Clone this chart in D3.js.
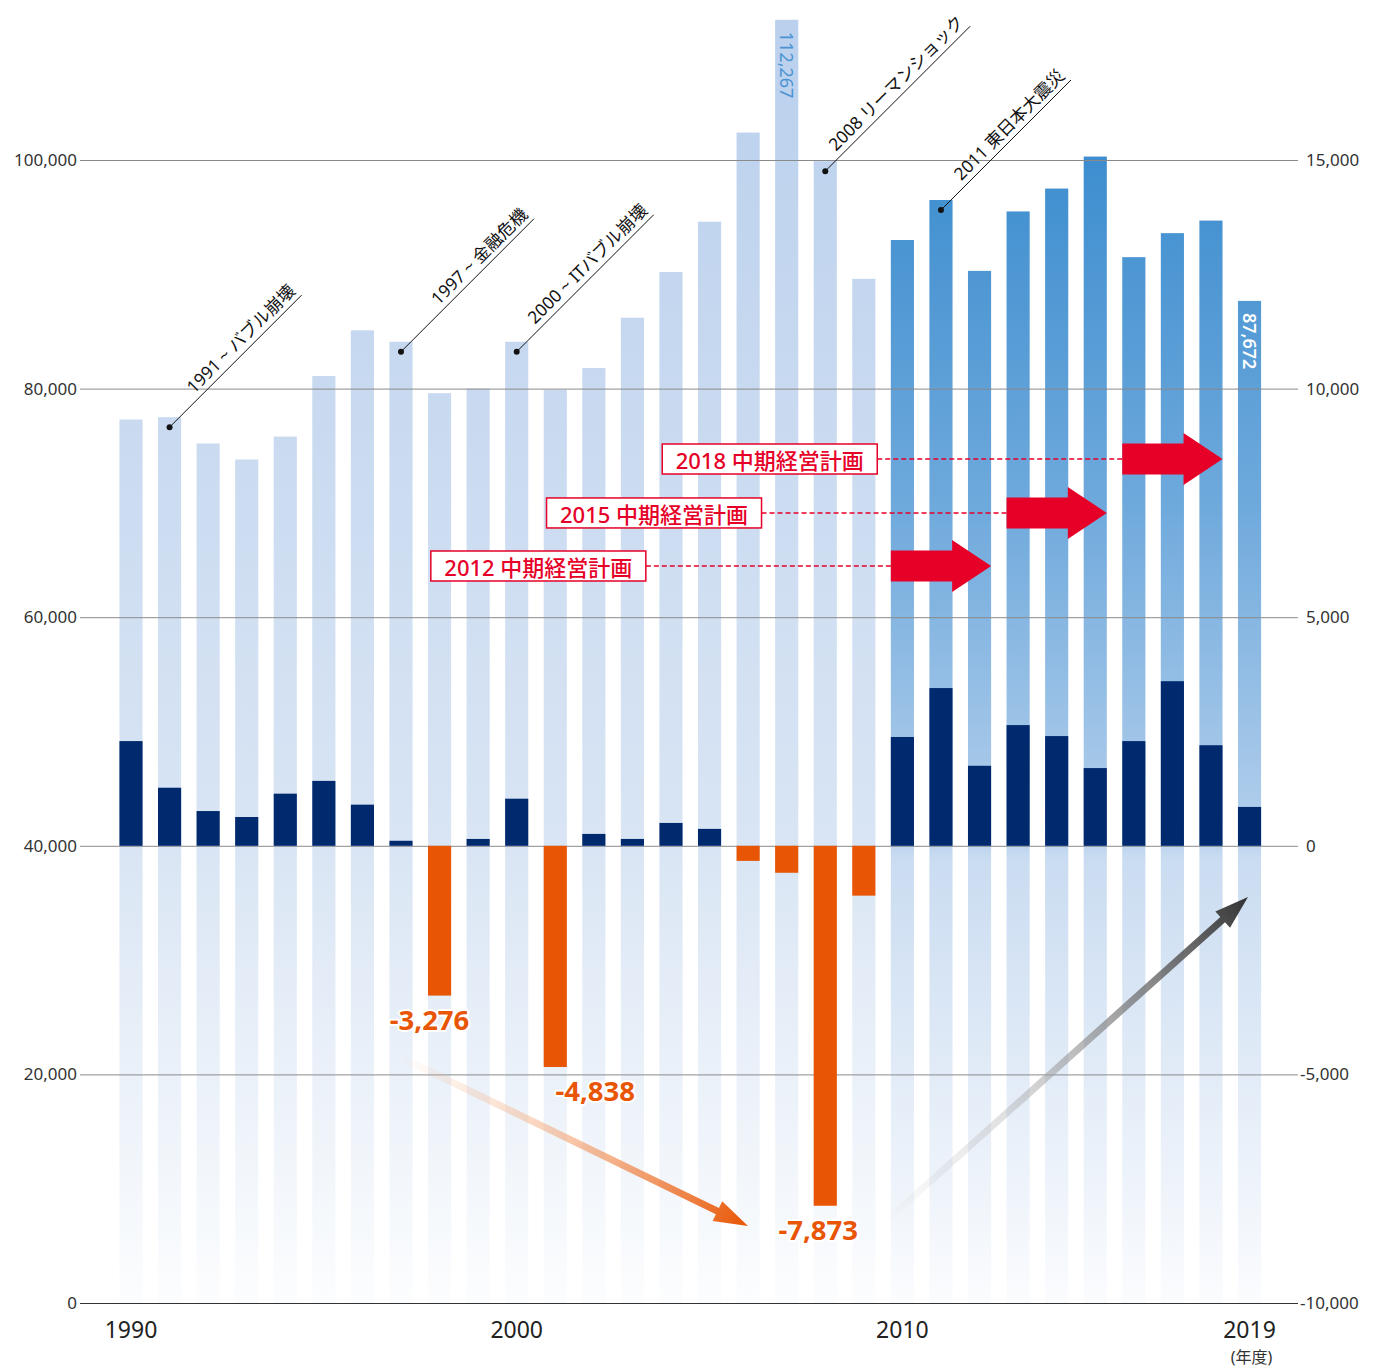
<!DOCTYPE html>
<html><head><meta charset="utf-8">
<script src="https://cdn.jsdelivr.net/npm/d3@7"></script>
<style>
html,body{margin:0;padding:0;background:#fff;}
svg text{font-family:"Noto Sans","Noto Sans CJK JP",sans-serif;}
</style></head>
<body>
<svg id="chart" width="1377" height="1367"></svg>
<script>
// ---------------- data ----------------
const years = d3.range(1990, 2020);
const revenue = [77300, 77500, 75200, 73800, 75800, 81100, 85100, 84100, 79600, 80000,
                 84100, 79900, 81800, 86200, 90200, 94600, 102400, 112267, 99900, 89600,
                 93000, 96500, 90300, 95500, 97500, 100300, 91500, 93600, 94700, 87672];
const profit  = [2290, 1270, 760, 630, 1140, 1420, 900, 110, -3276, 150,
                 1030, -4838, 260, 150, 500, 370, -330, -590, -7873, -1090,
                 2380, 3450, 1750, 2640, 2400, 1700, 2290, 3600, 2200, 850];
const leftTicks  = [0, 20000, 40000, 60000, 80000, 100000];
const rightTicks = [-10000, -5000, 0, 5000, 10000, 15000];
const yearTickLabels = [1990, 2000, 2010, 2019];
const highlightFrom = 2010;
const revenueLabelYears = [2007, 2019];
const lossLabelYears = [1998, 2001, 2008];
const eventYears = [1991, 1997, 2000, 2008, 2011];
const eventTexts = ["1991 ~ バブル崩壊", "1997 ~ 金融危機", "2000 ~ ITバブル崩壊", "2008 リーマンショック", "2011 東日本大震災"];
const planYears = [2012, 2015, 2018];
const planTexts = ["2012 中期経営計画", "2015 中期経営計画", "2018 中期経営計画"];
const unitLabel = "(年度)";

// ---------------- layout ----------------
(function () {
const svg = d3.select("#chart");
const fmt = v => d3.format(",")(v).replace("\u2212", "-");
const gridX0 = 80, gridX1 = 1298;
const step = 38.57;
const x = d3.scaleBand().domain(years).range([131 - step / 2, 131 - step / 2 + step * 30])
  .paddingInner(0.4).paddingOuter(0.2);
const yL = d3.scaleLinear().domain([0, 100000]).range([1303, 160]);
const yR = d3.scaleLinear().domain([-10000, 15000]).range([1303, 160]);
const cx = yr => x(yr) + x.bandwidth() / 2;

const defs = svg.append("defs");
function grad(id, stops, x1, y1, x2, y2) {
  const g = defs.append("linearGradient").attr("id", id).attr("gradientUnits", "userSpaceOnUse")
    .attr("x1", x1).attr("y1", y1).attr("x2", x2).attr("y2", y2);
  stops.forEach(s => g.append("stop").attr("offset", s[0]).attr("stop-color", s[1]).attr("stop-opacity", s[2] === undefined ? 1 : s[2]));
}
const gTop = yL(112267), gBot = yL(0), zeroY = yR(0);
const zf = (zeroY - gTop) / (gBot - gTop);
grad("gLight", [[0, "#bad0ed"], [zf, "#d9e5f4"], [1, "#fcfdfe"]], 0, gTop, 0, gBot);
const gTop2 = yL(100000);
const zf2 = (zeroY - gTop2) / (gBot - gTop2);
grad("gDark", [[0, "#3e8ecf"], [zf2 * 0.5, "#6ea9dc"], [zf2 * 0.98, "#b3cfec"], [zf2 * 1.02, "#cadcf1"], [1, "#fbfcfe"]], 0, gTop2, 0, gBot);

// revenue bars
svg.append("g").selectAll("rect").data(years).join("rect")
  .attr("x", d => x(d)).attr("width", x.bandwidth())
  .attr("y", (d, i) => yL(revenue[i])).attr("height", (d, i) => yL(0) - yL(revenue[i]))
  .attr("fill", d => d >= highlightFrom ? "url(#gDark)" : "url(#gLight)");

// gridlines + left axis
const axL = d3.axisLeft(yL).tickValues(leftTicks).tickSize(-(gridX1 - gridX0)).tickPadding(4)
  .tickFormat(fmt);
const gL = svg.append("g").attr("transform", `translate(${gridX0},0)`).call(axL);
gL.select(".domain").remove();
gL.selectAll(".tick line").attr("stroke", d => d === 0 ? "#333" : "#8a8a8a").attr("stroke-width", 1);
gL.selectAll(".tick text").attr("fill", "#333").attr("font-size", 17).attr("x", -3);

const axR = d3.axisRight(yR).tickValues(rightTicks).tickSize(0).tickPadding(8)
  .tickFormat(fmt);
const gR = svg.append("g").attr("transform", `translate(${gridX1},0)`).call(axR);
gR.select(".domain").remove();
gR.selectAll(".tick text").attr("fill", "#333").attr("font-size", 17)
  .attr("x", d => d < 0 ? 2 : 8);

// profit bars
svg.append("g").selectAll("rect").data(years).join("rect")
  .attr("x", d => x(d)).attr("width", x.bandwidth())
  .attr("y", (d, i) => Math.min(yR(profit[i]), yR(0)))
  .attr("height", (d, i) => Math.abs(yR(profit[i]) - yR(0)))
  .attr("fill", (d, i) => profit[i] < 0 ? "#e85504" : "#01296e");

// year labels
svg.append("g").selectAll("text").data(yearTickLabels).join("text")
  .attr("x", d => cx(d)).attr("y", 1338).attr("text-anchor", "middle")
  .attr("font-size", 23).attr("fill", "#222").text(d => d);
svg.append("text").attr("x", cx(2019) + 2).attr("y", 1363).attr("text-anchor", "middle")
  .attr("font-size", 16).attr("fill", "#333").text(unitLabel);

// revenue value labels (rotated, inside bars)
revenueLabelYears.forEach(yr => {
  const i = years.indexOf(yr);
  const px = cx(yr), py = yL(revenue[i]) + 12;
  svg.append("text").attr("transform", `translate(${px},${py}) rotate(90)`)
    .attr("dominant-baseline", "central").attr("font-size", 18)
    .attr("fill", yr >= highlightFrom ? "#fff" : "#4b93d3")
    .attr("font-weight", yr >= highlightFrom ? 600 : 400)
    .text(fmt(revenue[i]));
});

// loss labels
const lossDx = [-10, 40, -7];
lossLabelYears.forEach((yr, k) => {
  const i = years.indexOf(yr);
  svg.append("text").attr("x", cx(yr) + lossDx[k]).attr("y", yR(profit[i]) + 34)
    .attr("text-anchor", "middle").attr("font-size", 27.5).attr("font-weight", 700)
    .attr("fill", "#e85504").attr("stroke", "#fff").attr("stroke-width", 4)
    .attr("paint-order", "stroke").attr("stroke-linejoin", "round")
    .text(fmt(profit[i]));
});

// event annotations
const eventLen = [132, 133, 137, 145, 130];
eventYears.forEach((yr, k) => {
  const i = years.indexOf(yr);
  const x0 = cx(yr), y0 = yL(revenue[i]) + 10;
  const x1 = x0 + eventLen[k], y1 = y0 - eventLen[k];
  svg.append("line").attr("x1", x0).attr("y1", y0).attr("x2", x1).attr("y2", y1)
    .attr("stroke", "#111").attr("stroke-width", 1);
  svg.append("circle").attr("cx", x0).attr("cy", y0).attr("r", 3).attr("fill", "#111");
  svg.append("text").attr("transform", `translate(${x1 - 1},${y1 + 1}) rotate(-45)`)
    .attr("text-anchor", "end").attr("dy", -6).attr("font-size", 17.3).attr("fill", "#111")
    .text(eventTexts[k]);
});

// plan arrows
const planLevel = [64480, 69120, 73840];
planYears.forEach((yr, k) => {
  const xs = x(yr - 2), xe = x(yr) + x.bandwidth();
  const yc = yL(planLevel[k]);
  const bh = 15.5, hh = 26, hl = 39;
  const pts = [[xs, yc - bh], [xe - hl, yc - bh], [xe - hl, yc - hh], [xe, yc], [xe - hl, yc + hh], [xe - hl, yc + bh], [xs, yc + bh]];
  svg.append("polygon").attr("points", pts.map(p => p.join(",")).join(" ")).attr("fill", "#e60028");
  const bx1 = xs - 245, bx0 = bx1 - 215;
  svg.append("line").attr("x1", bx1).attr("x2", xs).attr("y1", yc).attr("y2", yc)
    .attr("stroke", "#e60028").attr("stroke-width", 1.5).attr("stroke-dasharray", "5,3");
  svg.append("rect").attr("x", bx0).attr("y", yc - 15).attr("width", 215).attr("height", 30)
    .attr("fill", "#fff").attr("stroke", "#e60028").attr("stroke-width", 1.5);
  svg.append("text").attr("x", bx0 + 107.5).attr("y", yc + 1).attr("text-anchor", "middle")
    .attr("dominant-baseline", "central").attr("font-size", 22).attr("font-weight", 500)
    .attr("fill", "#e60028")
    .text(planTexts[k]);
});

// trend arrows
function trendArrow(id, x0, y0, x1, y1, c0, c1) {
  grad(id, [[0, c0, 0], [0.3, c0, 0.4], [1, c1, 1]], x0, y0, x1, y1);
  const dx = x1 - x0, dy = y1 - y0, L = Math.hypot(dx, dy);
  const ux = dx / L, uy = dy / L, nx = -uy, ny = ux;
  const w = 3.5, hw = 11, hl = 34;
  const bxp = x1 - ux * hl, byp = y1 - uy * hl;
  const pts = [
    [x0 + nx * w, y0 + ny * w], [bxp + nx * w, byp + ny * w], [bxp + nx * hw, byp + ny * hw],
    [x1, y1], [bxp - nx * hw, byp - ny * hw], [bxp - nx * w, byp - ny * w], [x0 - nx * w, y0 - ny * w]];
  svg.append("polygon").attr("points", pts.map(p => p.join(",")).join(" ")).attr("fill", `url(#${id})`);
}
trendArrow("gOr", 400, 1057, 748, 1226, "#f6b48a", "#e85504");
trendArrow("gGr", 885, 1222, 1248, 897, "#bbbbbb", "#333333");
})();
</script>
</body></html>
